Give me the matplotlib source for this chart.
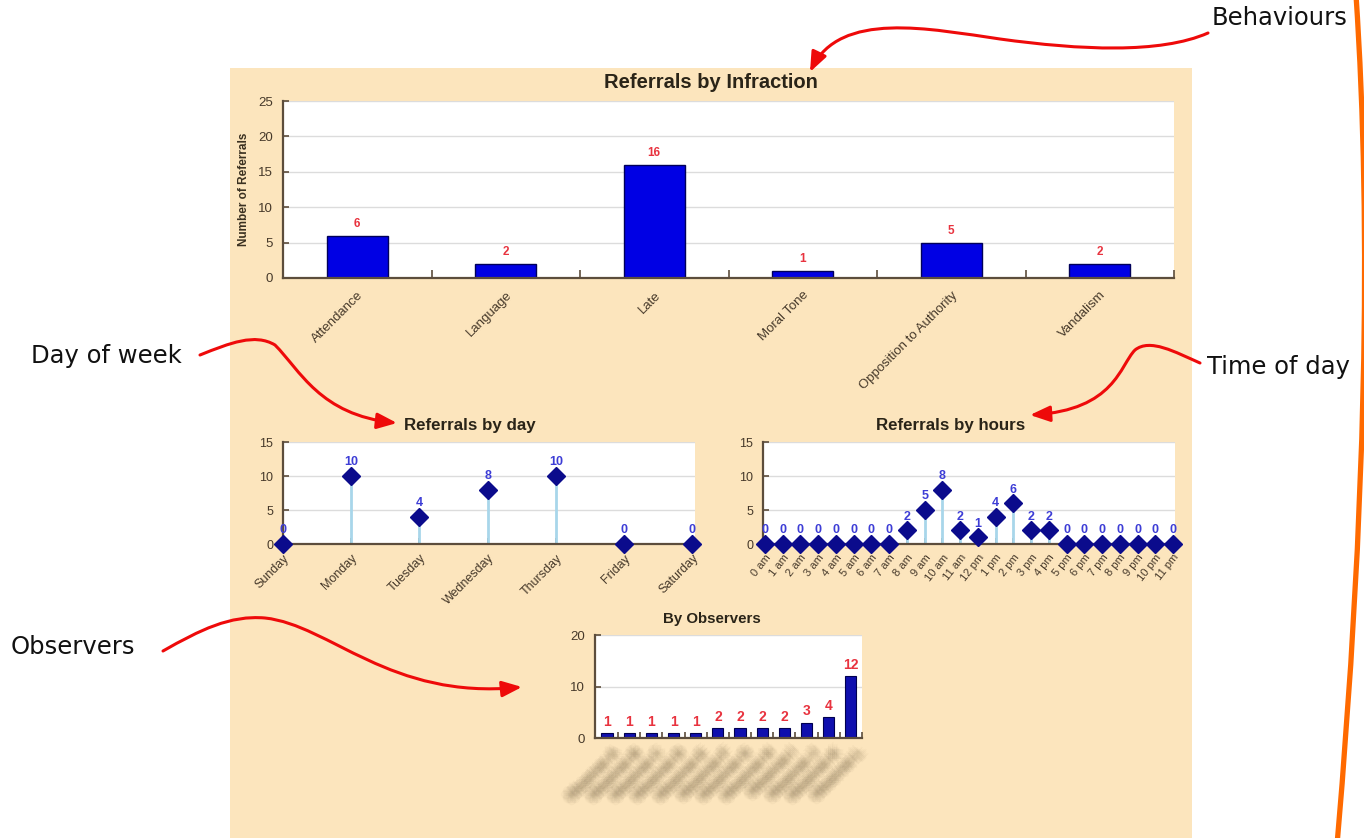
import matplotlib
matplotlib.use("Agg")
import matplotlib.pyplot as plt
from matplotlib.path import Path
from matplotlib.patches import FancyArrowPatch, Rectangle, PathPatch
from matplotlib.transforms import offset_copy

# ---------------------------------------------------------------- data
infractions = ["Attendance", "Language", "Late", "Moral Tone",
               "Opposition to Authority", "Vandalism"]
infraction_counts = [6, 2, 16, 1, 5, 2]

days = ["Sunday", "Monday", "Tuesday", "Wednesday", "Thursday", "Friday", "Saturday"]
day_counts = [0, 10, 4, 8, 10, 0, 0]

hours = ["0 am", "1 am", "2 am", "3 am", "4 am", "5 am", "6 am", "7 am",
         "8 am", "9 am", "10 am", "11 am", "12 pm", "1 pm", "2 pm", "3 pm",
         "4 pm", "5 pm", "6 pm", "7 pm", "8 pm", "9 pm", "10 pm", "11 pm"]
hour_counts = [0, 0, 0, 0, 0, 0, 0, 0, 2, 5, 8, 2, 1, 4, 6, 2, 2, 0, 0, 0, 0, 0, 0, 0]

observers = ["Observer A", "Observer B", "Observer C", "Observer D",
             "Observer E", "Observer F", "Observer G", "Observer H",
             "Observer I", "Observer J", "Observer K", "Observer L"]
observer_counts = [1, 1, 1, 1, 1, 2, 2, 2, 2, 3, 4, 12]

# ---------------------------------------------------------------- styling
W, H, DPI = 1364, 838, 100
PANEL = "#fce5bd"
SPINE = "#5c4d3c"
TICKTXT = "#46392a"
GRID = "#dcdcdc"
BAR_BLUE = "#0000e4"
RED_LBL = "#e8333f"
STEM = "#a8d6ea"
MARK = "#0b0b8c"
BLUE_LBL = "#3d3dd6"
CHART_FONT = "Liberation Sans"

plt.rcParams["font.family"] = [CHART_FONT, "DejaVu Sans"]

fig = plt.figure(figsize=(W / DPI, H / DPI), dpi=DPI, facecolor="white")


def px_rect(left, top, right, bottom):
    """Axes rectangle from pixel edges measured from the top-left corner."""
    return [left / W, 1 - bottom / H, (right - left) / W, (bottom - top) / H]


# background layer: beige dashboard panel + chart titles
bg = fig.add_axes([0, 0, 1, 1], zorder=0)
bg.set_xlim(0, W)
bg.set_ylim(H, 0)
bg.axis("off")
bg.add_patch(Rectangle((230, 68), 1192 - 230, H - 68, facecolor=PANEL,
                       edgecolor="none"))

titles = [("Referrals by Infraction", 711, 83, 14.5),
          ("Referrals by day", 470, 425, 12.2),
          ("Referrals by hours", 951, 425, 12.2),
          ("By Observers", 712, 619, 10.8)]
for txt, x, y, fs in titles:
    bg.text(x, y, txt, ha="center", va="center", fontsize=fs,
            fontweight="bold", color="#2a2418", family=CHART_FONT)


def style_axes(ax, ytick_size=9.5):
    ax.set_facecolor("white")
    for side in ("top", "right"):
        ax.spines[side].set_visible(False)
    for side in ("left", "bottom"):
        ax.spines[side].set_color(SPINE)
        ax.spines[side].set_linewidth(1.6)
    ax.yaxis.grid(True, color=GRID, lw=1)
    ax.set_axisbelow(True)
    ax.tick_params(axis="y", direction="in", length=4, width=1.2,
                   color=SPINE, labelcolor=TICKTXT, labelsize=ytick_size, pad=7)
    ax.tick_params(axis="x", which="both", direction="in", color=SPINE,
                   width=1.2, labelcolor=TICKTXT)


# ---------------------------------------------------------------- infractions
ax1 = fig.add_axes(px_rect(283, 101, 1174, 278), zorder=2)
style_axes(ax1)
x1 = list(range(len(infractions)))
ax1.bar(x1, infraction_counts, width=0.41, color=BAR_BLUE,
        edgecolor="#00005a", lw=1)
ax1.set_xlim(-0.5, len(infractions) - 0.5)
ax1.set_ylim(0, 25)
ax1.set_yticks([0, 5, 10, 15, 20, 25])
ax1.set_xticks(x1)
ax1.set_xticklabels(infractions, rotation=45, ha="right",
                    rotation_mode="anchor", fontsize=9.5)
ax1.tick_params(axis="x", which="major", length=0, pad=8)
ax1.set_xticks([i + 0.5 for i in x1], minor=True)
ax1.tick_params(axis="x", which="minor", length=6)
ax1.set_ylabel("Number of Referrals", fontsize=8.5, fontweight="bold",
               color="#3a3020", labelpad=6)
for xi, v in zip(x1, infraction_counts):
    ax1.annotate(str(v), (xi, v), xytext=(0, 4), textcoords="offset points",
                 ha="center", va="bottom", fontsize=8.5, fontweight="bold",
                 color=RED_LBL)


# ---------------------------------------------------------------- lollipops
def lollipop(ax, labels, values, rot, fs):
    style_axes(ax, ytick_size=9)
    xs = list(range(len(labels)))
    ax.vlines(xs, 0, values, color=STEM, lw=2, zorder=2)
    ax.plot(xs, values, "D", color=MARK, ms=9, clip_on=False, zorder=5)
    ax.set_ylim(0, 15)
    ax.set_yticks([0, 5, 10, 15])
    ax.set_xticks(xs)
    ax.set_xticklabels(labels, rotation=rot, ha="right",
                       rotation_mode="anchor", fontsize=fs)
    ax.tick_params(axis="x", length=4, pad=6)
    for xi, v in zip(xs, values):
        ax.annotate(str(v), (xi, v), xytext=(0, 5.5), textcoords="offset points",
                    ha="center", va="bottom", fontsize=9, fontweight="bold",
                    color=BLUE_LBL, zorder=6, annotation_clip=False)


ax2 = fig.add_axes(px_rect(283, 442, 695, 544), zorder=2)
lollipop(ax2, days, day_counts, 45, 9)
ax2.set_xlim(0, 6.04)

ax3 = fig.add_axes(px_rect(763, 442, 1175, 544), zorder=2)
lollipop(ax3, hours, hour_counts, 52, 8)
ax3.set_xlim(-0.11, 23.11)

# ---------------------------------------------------------------- observers
ax4 = fig.add_axes(px_rect(595, 635, 862, 738), zorder=2)
style_axes(ax4, ytick_size=9.5)
x4 = list(range(len(observers)))
ax4.bar(x4, observer_counts, width=0.5, color="#0f0fae",
        edgecolor="#000050", lw=0.8)
ax4.set_xlim(-0.54, 11.43)
ax4.set_ylim(0, 20)
ax4.set_yticks([0, 10, 20])
ax4.set_xticks(x4)
ax4.set_xticklabels([])
ax4.tick_params(axis="x", which="major", length=0)
ax4.set_xticks([i + 0.5 for i in x4], minor=True)
ax4.tick_params(axis="x", which="minor", length=4)
for xi, v in zip(x4, observer_counts):
    ax4.annotate(str(v), (xi, v), xytext=(0, 3), textcoords="offset points",
                 ha="center", va="bottom", fontsize=10, fontweight="bold",
                 color=RED_LBL)

# observer names are smudged out: many faint, slightly shifted copies
smudge = [(dx, dy) for dx in range(-6, 7, 2) for dy in range(-6, 7, 2)
          if dx * dx + dy * dy <= 36]
for xi, name in zip(x4, observers):
    for dx, dy in smudge:
        tr = offset_copy(ax4.transData, fig=fig, x=dx + 6, y=dy - 9, units="dots")
        ax4.text(xi, 0, name, transform=tr, rotation=45, ha="right", va="top",
                 rotation_mode="anchor", fontsize=9, fontweight="bold",
                 color="#7d6c50", alpha=0.05, clip_on=False)

# ---------------------------------------------------------------- callouts
ov = fig.add_axes([0, 0, 1, 1], zorder=10)
ov.set_xlim(0, W)
ov.set_ylim(H, 0)
ov.axis("off")
ov.patch.set_alpha(0)

callouts = [("Behaviours", 1212, 18),
            ("Day of week", 31, 356),
            ("Time of day", 1207, 367),
            ("Observers", 11, 647)]
for txt, x, y in callouts:
    ov.text(x, y, txt, ha="left", va="center", fontsize=17.5,
            color="#111111", family="DejaVu Sans")

C4 = Path.CURVE4
curves = [
    [(1208, 33), (1160, 54), (1080, 50), (1000, 39),
     (930, 29), (840, 10), (810, 72)],
    [(200, 355), (230, 343), (255, 333), (275, 345),
     (300, 370), (320, 415), (397, 423)],
    [(1200, 363), (1175, 352), (1150, 338), (1135, 350),
     (1120, 365), (1115, 410), (1030, 415)],
    [(163, 651), (200, 630), (230, 615), (265, 618),
     (330, 625), (390, 700), (522, 687)],
]
for verts in curves:
    codes = [Path.MOVETO] + [C4] * (len(verts) - 1)
    arrow = FancyArrowPatch(path=Path(verts, codes),
                            arrowstyle="-|>,head_length=0.8,head_width=0.32",
                            mutation_scale=15, color="#ee0a0a", lw=2.2)
    ov.add_patch(arrow)

# orange bracket line down the right edge
bracket = Path([(1356, -5), (1380, 350), (1337, 845)],
               [Path.MOVETO, Path.CURVE3, Path.CURVE3])
ov.add_patch(PathPatch(bracket, facecolor="none", edgecolor="#ff6a00", lw=3.8))

fig.savefig("out.png", dpi=DPI, facecolor="white")
